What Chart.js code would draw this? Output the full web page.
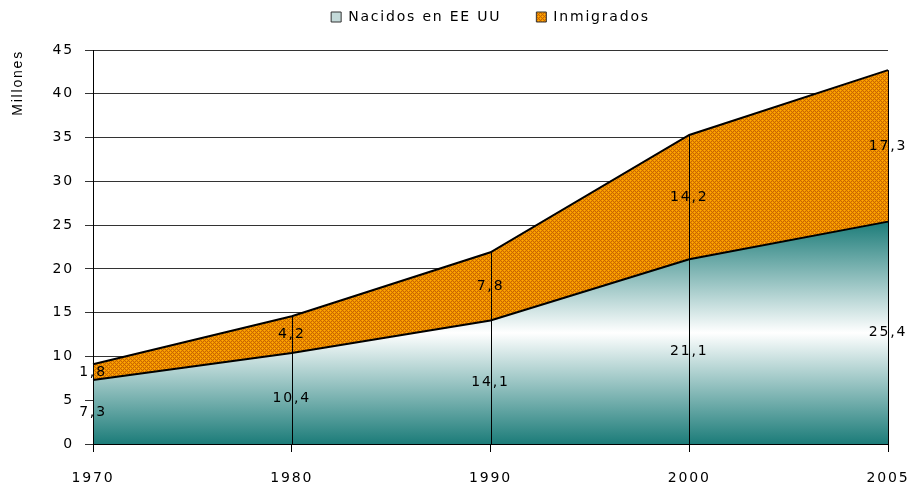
<!DOCTYPE html>
<html>
<head>
<meta charset="utf-8">
<script src="https://cdn.jsdelivr.net/npm/chart.js@4"></script>
<style>
  html, body { margin: 0; padding: 0; background: #fff; }
  #wrap { width: 909px; height: 491px; }
</style>
</head>
<body>
<div id="wrap"><canvas id="areaChart"></canvas></div>
<script>
// Chart data
const years = ['1970', '1980', '1990', '2000', '2005'];
const nativos = [7.3, 10.4, 14.1, 21.1, 25.4];
const inmigrados = [1.8, 4.2, 7.8, 14.2, 17.3];
const yTicks = [0, 5, 10, 15, 20, 25, 30, 35, 40, 45];

const TEAL = '#1c7c79';
const FONT = 'DejaVu Sans';
const SPACING = '1.8px';

// Orange crosshatch pattern
function makePattern() {
    const c = document.createElement('canvas');
    c.width = 4;
    c.height = 4;
    const g = c.getContext('2d');
    g.fillStyle = '#f39200';
    g.fillRect(0, 0, 4, 4);
    g.fillStyle = '#c86a00';
    [[0, 0], [1, 1], [2, 2], [3, 3], [1, 3], [3, 1]].forEach(p => g.fillRect(p[0], p[1], 1, 1));
    g.fillStyle = '#ffac00';
    g.fillRect(2, 0, 1, 1);
    g.fillRect(0, 2, 1, 1);
    return g.createPattern(c, 'repeat');
}
const orangePattern = makePattern();

// Teal - white - teal vertical gradient for the bottom series
function nativosFill(context) {
    const chart = context.chart;
    const area = chart.chartArea;
    if (!area) return TEAL;
    const y = chart.scales.y;
    const top = y.getPixelForValue(Math.max(...nativos));
    const bottom = y.getPixelForValue(0);
    const grad = chart.ctx.createLinearGradient(0, top, 0, bottom);
    grad.addColorStop(0, TEAL);
    grad.addColorStop(0.5, '#ffffff');
    grad.addColorStop(1, TEAL);
    return grad;
}

// Wider text like the original
const spacingPlugin = {
    id: 'spacing',
    beforeLayout(chart) { chart.ctx.letterSpacing = SPACING; },
    beforeDraw(chart) { chart.ctx.letterSpacing = SPACING; }
};

// Drop lines and value labels
const extrasPlugin = {
    id: 'extras',
    afterDatasetsDraw(chart) {
        const ctx = chart.ctx;
        const x = chart.scales.x;
        const y = chart.scales.y;
        ctx.save();
        ctx.strokeStyle = '#000';
        ctx.lineWidth = 1;
        years.forEach((yr, i) => {
            const px = Math.round(x.getPixelForValue(i)) + 0.5;
            ctx.beginPath();
            ctx.moveTo(px, y.getPixelForValue(nativos[i] + inmigrados[i]));
            ctx.lineTo(px, y.getPixelForValue(0));
            ctx.stroke();
        });
        ctx.fillStyle = '#000';
        ctx.font = '14px "' + FONT + '"';
        ctx.textAlign = 'center';
        ctx.textBaseline = 'middle';
        years.forEach((yr, i) => {
            const px = x.getPixelForValue(i);
            const a = nativos[i];
            const b = inmigrados[i];
            ctx.fillText(String(a).replace('.', ','), px, y.getPixelForValue(a / 2));
            ctx.fillText(String(b).replace('.', ','), px, y.getPixelForValue(a + b / 2));
        });
        ctx.restore();
    }
};

const ctx = document.getElementById('areaChart').getContext('2d');
const chart = new Chart(ctx, {
    type: 'line',
    data: {
        labels: years,
        datasets: [
            {
                label: 'Nacidos en EE UU',
                data: nativos,
                fill: 'origin',
                backgroundColor: nativosFill,
                borderColor: '#000',
                borderWidth: 2,
                pointRadius: 0,
                tension: 0
            },
            {
                label: 'Inmigrados',
                data: inmigrados,
                fill: '-1',
                backgroundColor: orangePattern,
                borderColor: '#000',
                borderWidth: 2,
                pointRadius: 0,
                tension: 0
            }
        ]
    },
    options: {
        responsive: true,
        maintainAspectRatio: false,
        animation: false,
        layout: { padding: { top: 0, right: 21, left: 0, bottom: 4 } },
        plugins: {
            legend: {
                position: 'top',
                fullSize: false,
                labels: {
                    color: '#000',
                    font: { family: FONT, size: 14 },
                    boxWidth: 10,
                    boxHeight: 10,
                    padding: 10,
                    generateLabels(chart) {
                        return [
                            { text: 'Nacidos en EE UU    ', fillStyle: '#c4dad9', strokeStyle: '#333', lineWidth: 1, datasetIndex: 0 },
                            { text: 'Inmigrados', fillStyle: orangePattern, strokeStyle: '#333', lineWidth: 1, datasetIndex: 1 }
                        ];
                    }
                }
            },
            // empty spacer between legend and plot
            title: {
                display: true,
                text: ' ',
                weight: 500,
                font: { size: 10 },
                padding: { top: 2, bottom: 2 }
            },
            tooltip: { enabled: false }
        },
        scales: {
            x: {
                offset: false,
                grid: { drawOnChartArea: false, drawTicks: true, tickLength: 8, color: '#000' },
                border: { color: '#000', width: 1 },
                ticks: { color: '#000', font: { family: FONT, size: 14 }, maxRotation: 0, padding: 18 },
                afterFit(scale) {
                    scale.height = 43;
                    scale.paddingLeft = 0;
                    scale.paddingRight = 0;
                }
            },
            y: {
                stacked: true,
                min: 0,
                max: 45,
                afterBuildTicks(scale) {
                    scale.ticks = yTicks.map(v => ({ value: v }));
                },
                afterFit(scale) {
                    scale.width = 93;
                },
                grid: { color: '#333', lineWidth: 1, tickLength: 8 },
                border: { color: '#000', width: 1 },
                ticks: { color: '#000', font: { family: FONT, size: 14 }, padding: 11 },
                title: {
                    display: true,
                    text: 'Millones',
                    align: 'end',
                    color: '#000',
                    font: { family: 'Liberation Sans', size: 14 },
                    padding: { top: 10, bottom: 0 }
                }
            }
        }
    },
    plugins: [spacingPlugin, extrasPlugin]
});
</script>
</body>
</html>
